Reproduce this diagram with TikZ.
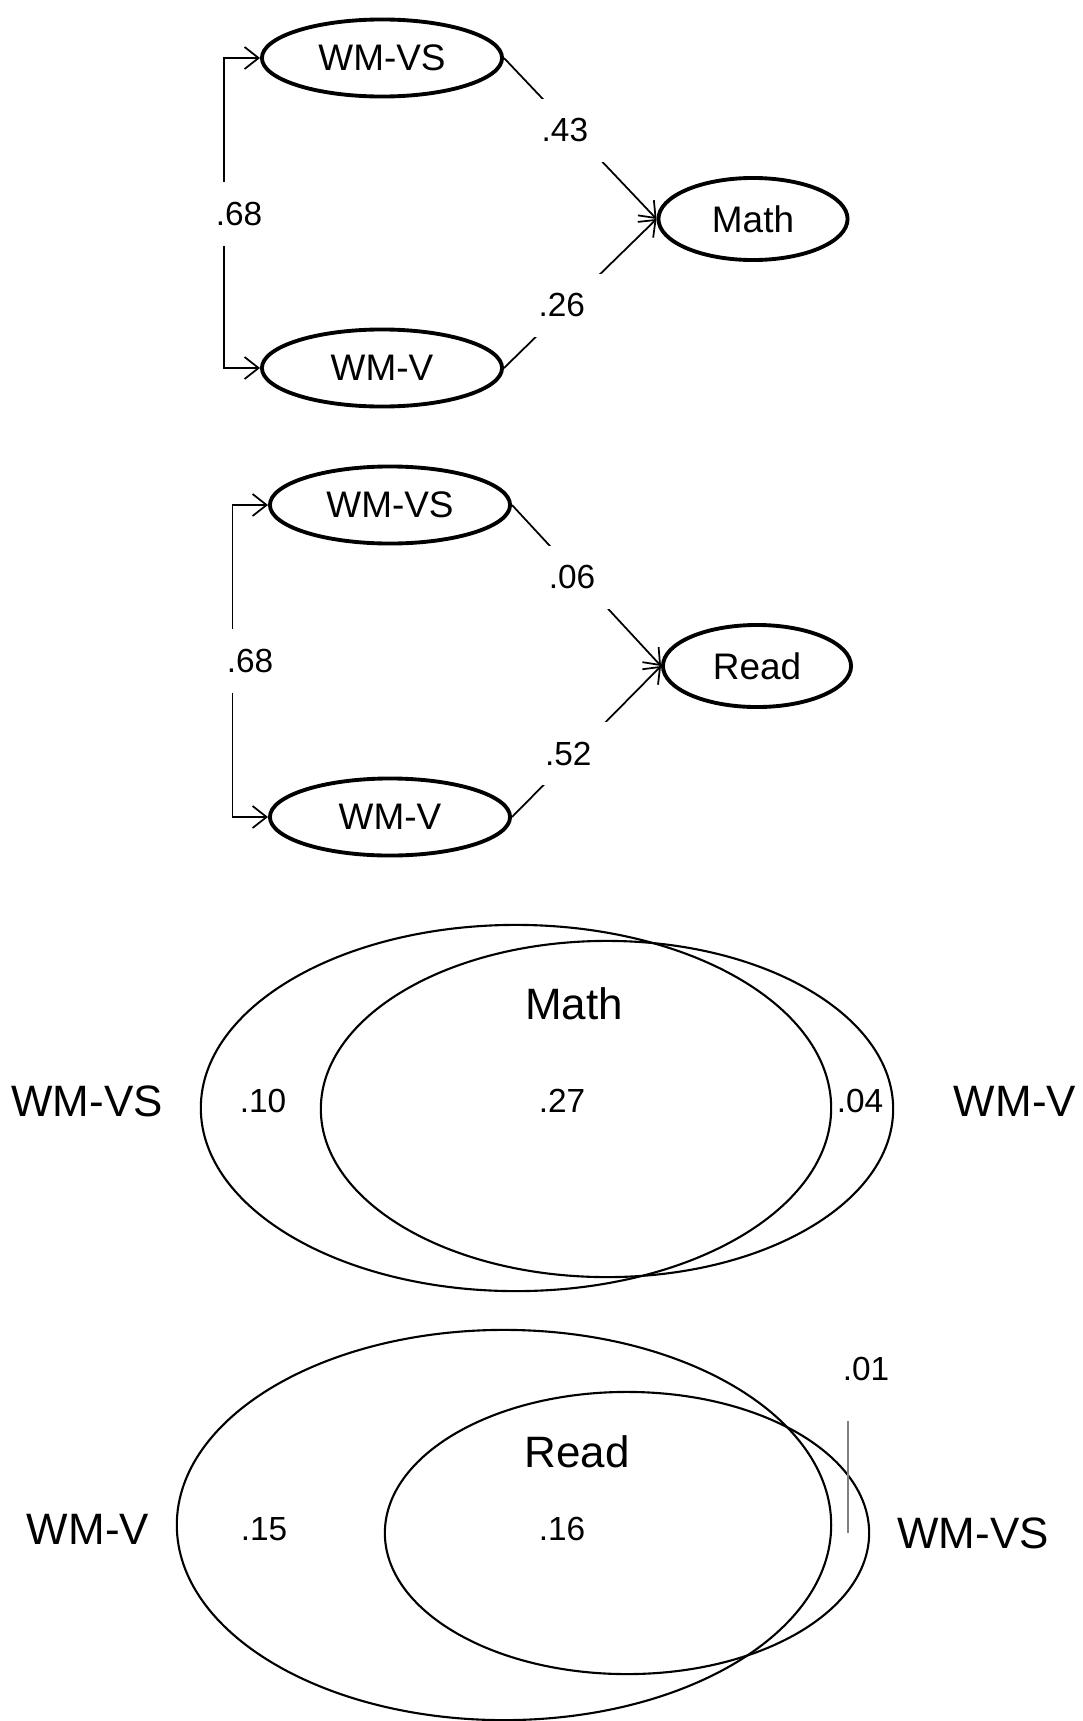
\documentclass[tikz,border=0pt]{standalone}
\usepackage{fontspec}
\setmainfont{Liberation Sans}
\usetikzlibrary{arrows.meta,shapes.geometric}
\tikzset{
  latent/.style = {draw, ellipse, line width=1.1pt, inner sep=0pt, minimum width=2.40cm, minimum height=0.77cm, font=\fontsize{10.5}{12}\selectfont},
  coef/.style   = {fill=white, inner sep=5.5pt, font=\fontsize{9.5}{11}\selectfont},
  line/.style   = {-{Straight Barb[length=1.4mm,width=2.2mm]}, line width=0.5pt},
  venn/.style   = {draw, ellipse, line width=0.6pt, inner sep=0pt},
  share/.style  = {font=\fontsize{9.5}{11}\selectfont},
  vname/.style  = {font=\fontsize{12.5}{15}\selectfont},
}
\begin{document}
\begin{tikzpicture}[x=0.01cm, y=-0.01cm]
    \useasboundingbox (0,0) rectangle (1083,1721);

    % math model
    \node[latent] (vsA) at (382,58) {WM-VS};
    \node[latent] (vA) at (382,368) {WM-V};
    \node[latent, minimum width=1.89cm, minimum height=0.82cm] (math) at (753,219) {Math};
    \node[coef] (r68a) at (239,214) {.68};

    \draw[line] ([xshift=-4.3pt]r68a.north) |- (vsA.west);
    \draw[line] ([xshift=-4.3pt]r68a.south) |- (vA.west);
    \draw[line] (vsA.east) -- node[coef, pos=0.45, xshift=-2.2pt] {.43} (math.west);
    \draw[line] (vA.east) -- node[coef, pos=0.42, xshift=-1.8pt] {.26} (math.west);

    % reading model
    \node[latent] (vsB) at (390,505) {WM-VS};
    \node[latent] (vB) at (390,817) {WM-V};
    \node[latent, minimum width=1.88cm, minimum height=0.82cm] (read) at (757,666) {Read};
    \node[coef] (r68b) at (250,661) {.68};

    \draw[line] ([xshift=-5pt]r68b.north) |- (vsB.west);
    \draw[line] ([xshift=-5pt]r68b.south) |- (vB.west);
    \draw[line] (vsB.east) -- node[coef, pos=0.45, xshift=-2pt] {.06} (read.west);
    \draw[line] (vB.east) -- node[coef, pos=0.42, xshift=-1.8pt] {.52} (read.west);

    % venn: math
    \node[venn, minimum width=6.30cm, minimum height=3.66cm] (mvs) at (516,1108) {};
    \node[venn, minimum width=5.72cm, minimum height=3.36cm] (mv) at (607,1109) {};
    \node[vname] (lmvs) at (87,1101) {WM-VS};
    \node[vname] (lmv) at (1015,1101) {WM-V};
    \node[vname] (lmath) at (574,1004) {Math};
    \node[share] (s10) at (263,1101) {.10};
    \node[share] (s27) at (562,1101) {.27};
    \node[share] (s04) at (860,1101) {.04};

    % venn: reading
    \node[venn, minimum width=6.54cm, minimum height=3.90cm] (rv) at (504,1525) {};
    \node[venn, minimum width=4.84cm, minimum height=2.82cm] (rvs) at (627,1533) {};
    \node[vname] (lrv) at (88,1529) {WM-V};
    \node[vname] (lrvs) at (973,1533) {WM-VS};
    \node[vname] (lread) at (577,1452) {Read};
    \node[share] (s15) at (264,1529) {.15};
    \node[share] (s16) at (562,1529) {.16};
    \node[share] (s01) at (866,1369) {.01};
    \coordinate (tick) at (848,1533);
    \draw[gray, line width=0.4pt] ([yshift=-8pt]s01.south -| tick) -- (tick);
\end{tikzpicture}
\end{document}
